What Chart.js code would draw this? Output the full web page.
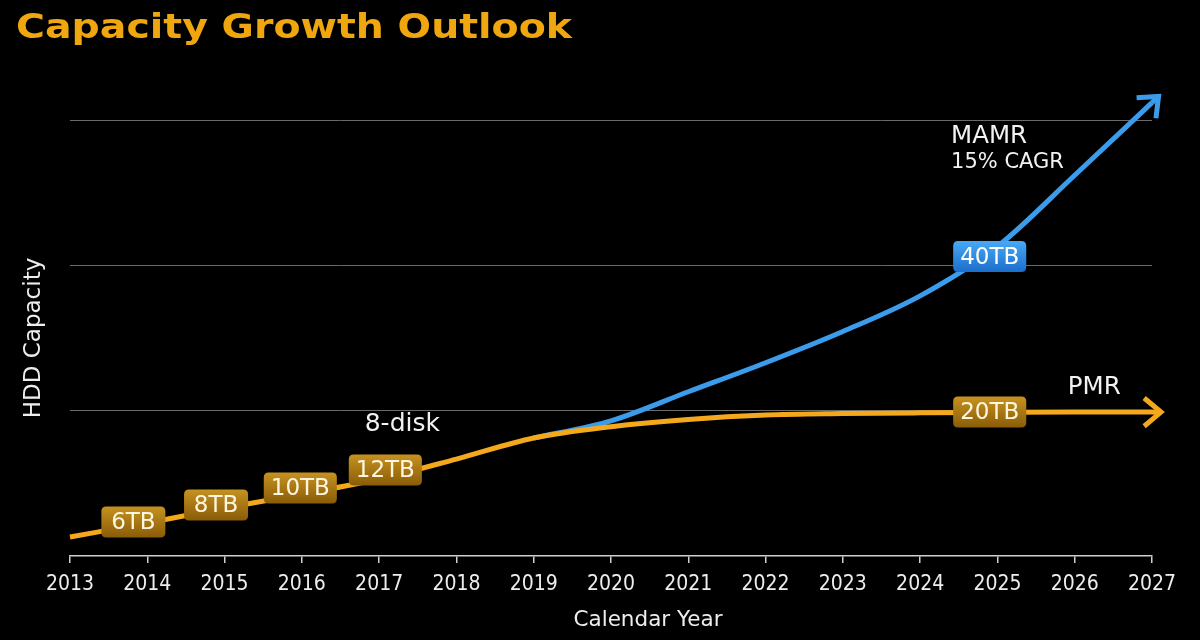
<!DOCTYPE html>
<html>
<head>
<meta charset="utf-8">
<script src="https://cdn.jsdelivr.net/npm/chart.js@4.4.1/dist/chart.umd.min.js"></script>
<style>
  html, body { margin: 0; padding: 0; background: #000; overflow: hidden; }
  #wrap { width: 1200px; height: 640px; position: relative; }
</style>
</head>
<body>
<div id="wrap"><canvas id="c"></canvas></div>
<script>
// ---- data ----
const titleText = 'Capacity Growth Outlook';
const xAxisTitle = 'Calendar Year';
const yAxisTitle = 'HDD Capacity';
const yearMin = 2013;
const yearMax = 2027;

const pmrYears  = [2013, 2014, 2015, 2016, 2017, 2018, 2019, 2020, 2021, 2022, 2023, 2024, 2025, 2026, 2027];
const pmrValues = [0.131, 0.227, 0.330, 0.426, 0.530, 0.667, 0.812, 0.89, 0.94, 0.97, 0.98, 0.985, 0.988, 0.99, 0.99];

const mamrYears  = [2019, 2020, 2021, 2022, 2023, 2024, 2025, 2026, 2027];
const mamrValues = [0.812, 0.93, 1.13, 1.33, 1.545, 1.79, 2.13, 2.62, 3.12];

const gridValues = [0, 1, 2, 3];

const boxLabels = ['6TB', '8TB', '10TB', '12TB', '20TB', '40TB'];
const boxYears  = [2013.82, 2014.89, 2015.98, 2017.08, 2024.9, 2024.9];
const boxValues = [0.234, 0.351, 0.468, 0.592, 0.99, 2.06];
const boxSeries = ['pmr', 'pmr', 'pmr', 'pmr', 'pmr', 'mamr'];

const noteTexts  = ['8-disk', 'MAMR', '15% CAGR', 'PMR'];
const noteYears  = [2017.3, 2024.4, 2024.4, 2025.91];
const noteValues = [0.908, 2.884, 2.71, 1.16];
const noteSizes  = [25, 24.5, 21, 24.5];

// ---- styles ----
const ORANGE = '#F4A81C';
const BLUE = '#3C9CEC';
const FONT = '"DejaVu Sans", Verdana, sans-serif';

const bgPlugin = {
  id: 'bg',
  beforeDraw(chart) {
    const ctx = chart.ctx;
    ctx.save();
    ctx.fillStyle = '#000';
    ctx.fillRect(0, 0, chart.width, chart.height);
    ctx.restore();
  }
};

const titlePlugin = {
  id: 'bigTitle',
  afterDraw(chart) {
    const ctx = chart.ctx;
    ctx.save();
    ctx.font = 'bold 34px ' + FONT;
    ctx.fillStyle = '#F0A60E';
    ctx.textBaseline = 'alphabetic';
    const w = ctx.measureText(titleText).width;
    const sx = 556 / w;
    ctx.translate(16, 38);
    ctx.scale(sx, 1);
    ctx.fillText(titleText, 0, 0);
    ctx.restore();
    // x-axis title (sits right of the axis centre in the original)
    const ca = chart.chartArea;
    ctx.save();
    ctx.font = '21.5px ' + FONT;
    ctx.fillStyle = '#EDEDED';
    ctx.textAlign = 'center';
    ctx.textBaseline = 'middle';
    ctx.fillText(xAxisTitle, (ca.left + ca.right) / 2 + 37, chart.height - 20);
    ctx.restore();
  }
};

function drawArrow(chart, meta, color) {
  const pts = meta.data;
  const last = pts[pts.length - 1];
  let px = last.cp1x, py = last.cp1y;
  if (px === undefined || (Math.abs(px - last.x) < 0.01 && Math.abs(py - last.y) < 0.01)) {
    px = pts[pts.length - 2].x; py = pts[pts.length - 2].y;
  }
  let dx = last.x - px, dy = last.y - py;
  const len = Math.hypot(dx, dy) || 1;
  dx /= len; dy /= len;
  const ext = 9;
  const tx = last.x + dx * ext, ty = last.y + dy * ext;
  const ctx = chart.ctx;
  ctx.save();
  ctx.strokeStyle = color;
  ctx.lineWidth = 5;
  ctx.lineCap = 'butt';
  ctx.lineJoin = 'miter';
  ctx.beginPath();
  ctx.moveTo(last.x, last.y);
  ctx.lineTo(tx - dx * 3, ty - dy * 3);
  ctx.stroke();
  const arm = 22, ang = 40 * Math.PI / 180;
  const bx = -dx, by = -dy;
  const a1x = bx * Math.cos(ang) - by * Math.sin(ang);
  const a1y = bx * Math.sin(ang) + by * Math.cos(ang);
  const a2x = bx * Math.cos(-ang) - by * Math.sin(-ang);
  const a2y = bx * Math.sin(-ang) + by * Math.cos(-ang);
  ctx.beginPath();
  ctx.moveTo(tx + a1x * arm, ty + a1y * arm);
  ctx.lineTo(tx, ty);
  ctx.lineTo(tx + a2x * arm, ty + a2y * arm);
  ctx.stroke();
  ctx.restore();
}

function roundRect(ctx, x, y, w, h, r) {
  ctx.beginPath();
  ctx.moveTo(x + r, y);
  ctx.lineTo(x + w - r, y);
  ctx.quadraticCurveTo(x + w, y, x + w, y + r);
  ctx.lineTo(x + w, y + h - r);
  ctx.quadraticCurveTo(x + w, y + h, x + w - r, y + h);
  ctx.lineTo(x + r, y + h);
  ctx.quadraticCurveTo(x, y + h, x, y + h - r);
  ctx.lineTo(x, y + r);
  ctx.quadraticCurveTo(x, y, x + r, y);
  ctx.closePath();
}

const overlayPlugin = {
  id: 'overlay',
  afterDatasetsDraw(chart) {
    const ctx = chart.ctx;
    const xs = chart.scales.x, ys = chart.scales.y;
    drawArrow(chart, chart.getDatasetMeta(1), BLUE);
    drawArrow(chart, chart.getDatasetMeta(0), ORANGE);
    ctx.save();
    ctx.font = '23px ' + FONT;
    ctx.textAlign = 'center';
    ctx.textBaseline = 'middle';
    boxLabels.forEach((t, i) => {
      const cx = xs.getPixelForValue(boxYears[i]);
      const cy = ys.getPixelForValue(boxValues[i]);
      const tw = ctx.measureText(t).width;
      const w = Math.max(64, tw + 14), h = 31;
      const g = ctx.createLinearGradient(0, cy - h / 2, 0, cy + h / 2);
      if (boxSeries[i] === 'mamr') {
        g.addColorStop(0, '#48A8F6');
        g.addColorStop(1, '#1B6ECB');
      } else {
        g.addColorStop(0, '#C69220');
        g.addColorStop(1, '#8A5C07');
      }
      roundRect(ctx, cx - w / 2, cy - h / 2, w, h, 5);
      ctx.fillStyle = g;
      ctx.fill();
      ctx.fillStyle = boxSeries[i] === 'mamr' ? '#FFFFFF' : '#FFF6E2';
      ctx.fillText(t, cx, cy + 1);
    });
    ctx.restore();
    ctx.save();
    ctx.fillStyle = '#F2F2F2';
    ctx.textBaseline = 'middle';
    noteTexts.forEach((t, i) => {
      ctx.font = noteSizes[i] + 'px ' + FONT;
      const x = xs.getPixelForValue(noteYears[i]);
      const y = ys.getPixelForValue(noteValues[i]);
      ctx.textAlign = i === 0 ? 'center' : 'left';
      ctx.fillText(t, x, y);
    });
    ctx.restore();
  }
};

const toXY = (xs, ys) => xs.map((x, i) => ({ x: x, y: ys[i] }));

new Chart(document.getElementById('c'), {
  type: 'line',
  data: {
    datasets: [
      {
        label: 'PMR',
        data: toXY(pmrYears, pmrValues),
        borderColor: ORANGE,
        borderWidth: 5,
        pointRadius: 0,
        cubicInterpolationMode: 'monotone',
        fill: false,
        clip: false
      },
      {
        label: 'MAMR',
        data: toXY(mamrYears, mamrValues),
        borderColor: BLUE,
        borderWidth: 5,
        pointRadius: 0,
        cubicInterpolationMode: 'monotone',
        fill: false,
        clip: false
      }
    ]
  },
  options: {
    responsive: true,
    maintainAspectRatio: false,
    animation: false,
    devicePixelRatio: 1,
    layout: { padding: { top: 120, left: 0, right: 0, bottom: 0 } },
    plugins: {
      legend: { display: false },
      tooltip: { enabled: false },
      title: { display: false }
    },
    scales: {
      x: {
        type: 'linear',
        min: yearMin,
        max: yearMax,
        afterFit(s) { s.height = 84; s.paddingLeft = 0; s.paddingRight = 48; },
        ticks: {
          stepSize: 1,
          autoSkip: false,
          maxRotation: 0,
          padding: 9,
          color: '#EDEDED',
          font: { family: '"DejaVu Sans Condensed", "DejaVu Sans", sans-serif', size: 21 },
          callback: (v) => String(v)
        },
        grid: {
          drawOnChartArea: false,
          drawTicks: true,
          tickLength: 7,
          color: '#CFCFCF',
          lineWidth: 1.5
        },
        border: { display: true, color: '#CFCFCF', width: 1.5 },
        title: { display: false }
      },
      y: {
        min: 0,
        max: 3,
        afterFit(s) { s.width = 70; },
        afterBuildTicks(s) { s.ticks = gridValues.map(v => ({ value: v })); },
        ticks: { display: false },
        grid: {
          drawTicks: false,
          color: (c) => c.tick && c.tick.value === 0 ? 'rgba(0,0,0,0)' : '#6A6A6A',
          lineWidth: 1
        },
        border: { display: false },
        title: {
          display: true,
          text: yAxisTitle,
          color: '#EDEDED',
          font: { family: FONT, size: 23 },
          padding: { top: 20, bottom: 0 }
        }
      }
    }
  },
  plugins: [bgPlugin, overlayPlugin, titlePlugin]
});
</script>
</body>
</html>
